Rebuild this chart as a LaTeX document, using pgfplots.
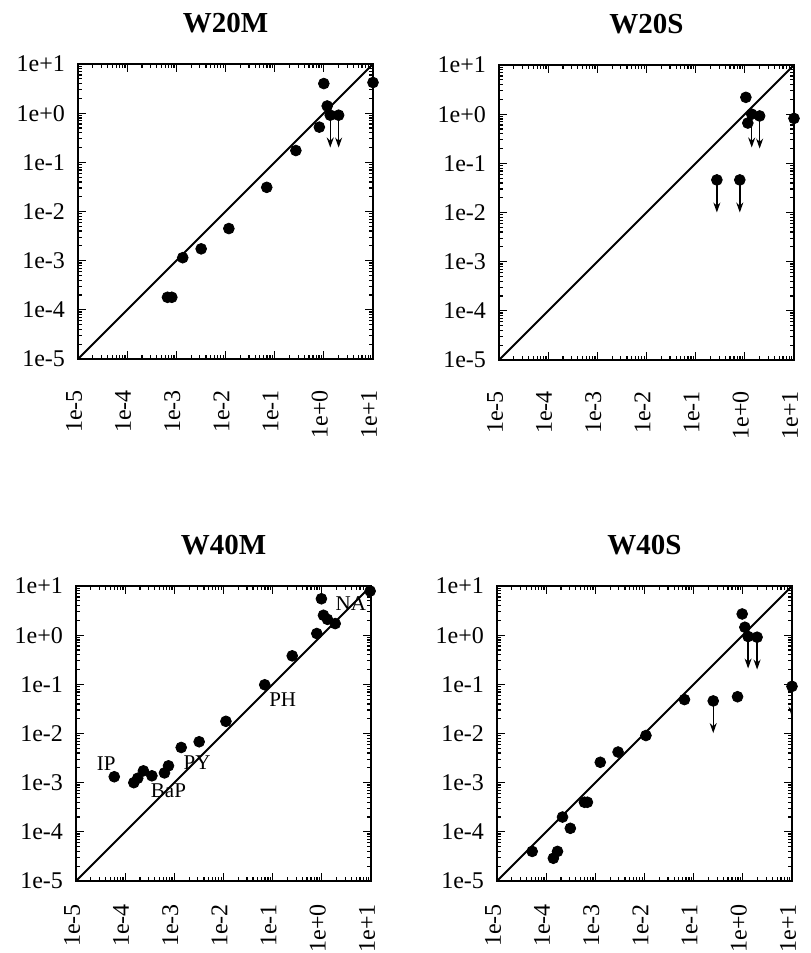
\documentclass[border=0pt]{standalone}
\usepackage{fontspec}
\setmainfont{Liberation Serif}
\usepackage{pgfplots}
\pgfplotsset{compat=1.18}
\usetikzlibrary{arrows.meta}

\pgfplotsset{every axis title/.style={at={(0.5,1)}, anchor=base, yshift=16pt, font=\fontsize{14.5}{16}\selectfont\bfseries}}
\pgfplotsset{every axis/.append style={
    scale only axis, width=147.5pt, height=147.5pt,
    xmin=1e-5, xmax=1e1, ymin=1e-5, ymax=1e1,
    xtick={1e-5,1e-4,1e-3,1e-2,1e-1,1,10},
    ytick={1e-5,1e-4,1e-3,1e-2,1e-1,1,10},
    xticklabels={1e-5,1e-4,1e-3,1e-2,1e-1,1e+0,1e+1},
    yticklabels={1e-5,1e-4,1e-3,1e-2,1e-1,1e+0,1e+1},
    minor xtick={2e-5,3e-5,4e-5,5e-5,6e-5,7e-5,8e-5,9e-5,2e-4,3e-4,4e-4,5e-4,6e-4,7e-4,8e-4,9e-4,2e-3,3e-3,4e-3,5e-3,6e-3,7e-3,8e-3,9e-3,2e-2,3e-2,4e-2,5e-2,6e-2,7e-2,8e-2,9e-2,0.2,0.3,0.4,0.5,0.6,0.7,0.8,0.9,2,3,4,5,6,7,8,9},
    minor ytick={2e-5,3e-5,4e-5,5e-5,6e-5,7e-5,8e-5,9e-5,2e-4,3e-4,4e-4,5e-4,6e-4,7e-4,8e-4,9e-4,2e-3,3e-3,4e-3,5e-3,6e-3,7e-3,8e-3,9e-3,2e-2,3e-2,4e-2,5e-2,6e-2,7e-2,8e-2,9e-2,0.2,0.3,0.4,0.5,0.6,0.7,0.8,0.9,2,3,4,5,6,7,8,9},
    tick align=inside,
    major tick length=4pt, minor tick length=2.2pt,
    axis line style={line width=1pt},
    tick style={black, line width=0.6pt},
    tick label style={font=\fontsize{12}{13}\selectfont},
    xticklabel style={rotate=90, anchor=east, xshift=-12pt, yshift=2pt},
    yticklabel style={xshift=-3pt},
}}

\begin{document}
\begin{tikzpicture}
\useasboundingbox (0,0) rectangle (405pt,-476.5pt);

% W20M
\begin{loglogaxis}[at={(39pt,-32pt)}, anchor=north west, title={W20M}]
\addplot[black, line width=1pt] coordinates {(1e-5,1e-5) (1e1,1e1)};
\addplot[black, line width=0.7pt, -{Stealth[length=5pt,width=3.5pt]}] coordinates {(1.35,0.91) (1.35,0.2)};
\addplot[black, line width=0.7pt, -{Stealth[length=5pt,width=3.5pt]}] coordinates {(2.0,0.91) (2.0,0.2)};
\addplot[only marks, mark=*, mark size=2.7pt, black] table {
x y
6.6e-4 1.8e-4
8.1e-4 1.8e-4
1.35e-3 1.15e-3
3.2e-3 1.74e-3
0.0117 4.5e-3
0.069 0.031
0.27 0.174
0.81 0.52
1.0 4.0
1.17 1.4
1.35 0.91
2.0 0.91
10 4.2
};
\end{loglogaxis}

% W20S
\begin{loglogaxis}[at={(249.5pt,-32.5pt)}, anchor=north west, title={W20S}]
\addplot[black, line width=1pt] coordinates {(1e-5,1e-5) (1e1,1e1)};
\addplot[black, line width=0.7pt, -{Stealth[length=5pt,width=3.5pt]}] coordinates {(1.38,1.0) (1.38,0.21)};
\addplot[black, line width=0.7pt, -{Stealth[length=5pt,width=3.5pt]}] coordinates {(2.0,0.92) (2.0,0.2)};
\addplot[black, line width=0.7pt, -{Stealth[length=5pt,width=3.5pt]}] coordinates {(0.27,0.046) (0.27,0.01)};
\addplot[black, line width=0.7pt, -{Stealth[length=5pt,width=3.5pt]}] coordinates {(0.79,0.046) (0.79,0.01)};
\addplot[only marks, mark=*, mark size=2.7pt, black] table {
x y
1.05 2.2
1.15 0.66
1.38 1.0
2.0 0.92
10 0.82
0.27 0.046
0.79 0.046
};
\end{loglogaxis}

% W40M
\begin{loglogaxis}[at={(38pt,-293pt)}, anchor=north west, title={W40M}, xticklabel style={xshift=4pt}]
\addplot[black, line width=1pt] coordinates {(1e-5,1e-5) (1e1,1e1)};
\addplot[only marks, mark=*, mark size=2.7pt, black] table {
x y
6.0e-5 1.32e-3
1.5e-4 1.0e-3
1.8e-4 1.23e-3
2.35e-4 1.74e-3
3.5e-4 1.38e-3
6.3e-4 1.58e-3
7.6e-4 2.2e-3
1.38e-3 5.2e-3
3.2e-3 6.8e-3
0.0112 0.0177
0.069 0.098
0.25 0.38
0.79 1.08
0.98 5.5
1.08 2.54
1.3 2.1
1.87 1.72
9.6 7.9
};
\node[font=\fontsize{10.5}{12}\selectfont] at (axis cs:4.1e-5,2.4e-3) {IP};
\node[font=\fontsize{10.5}{12}\selectfont] at (axis cs:7.6e-4,6.9e-4) {BaP};
\node[font=\fontsize{10.5}{12}\selectfont] at (axis cs:2.9e-3,2.6e-3) {PY};
\node[font=\fontsize{10.5}{12}\selectfont] at (axis cs:0.16,0.048) {PH};
\node[font=\fontsize{10.5}{12}\selectfont] at (axis cs:3.9,4.3) {NA};
\end{loglogaxis}

% W40S
\begin{loglogaxis}[at={(248.5pt,-293pt)}, anchor=north west, title={W40S}, xticklabel style={xshift=4pt}]
\addplot[black, line width=1pt] coordinates {(1e-5,1e-5) (1e1,1e1)};
\addplot[black, line width=0.7pt, -{Stealth[length=5pt,width=3.5pt]}] coordinates {(0.25,0.046) (0.25,0.0102)};
\addplot[black, line width=0.7pt, -{Stealth[length=5pt,width=3.5pt]}] coordinates {(1.28,0.94) (1.28,0.21)};
\addplot[black, line width=0.7pt, -{Stealth[length=5pt,width=3.5pt]}] coordinates {(1.95,0.91) (1.95,0.2)};
\addplot[black, line width=0.7pt, -{Stealth[length=5pt,width=3.5pt]}] coordinates {(10,0.091) (10,0.022)};
\addplot[only marks, mark=*, mark size=2.7pt, black] table {
x y
5.2e-5 4.0e-5
1.4e-4 2.9e-5
1.7e-4 4.0e-5
2.15e-4 2.0e-4
3.1e-4 1.18e-4
6.0e-4 4.0e-4
6.9e-4 4.0e-4
1.26e-3 2.6e-3
2.9e-3 4.2e-3
0.0107 9.1e-3
0.065 0.049
0.25 0.046
0.78 0.056
0.97 2.7
1.1 1.45
1.28 0.94
1.95 0.91
10 0.091
};
\end{loglogaxis}
\end{tikzpicture}
\end{document}
